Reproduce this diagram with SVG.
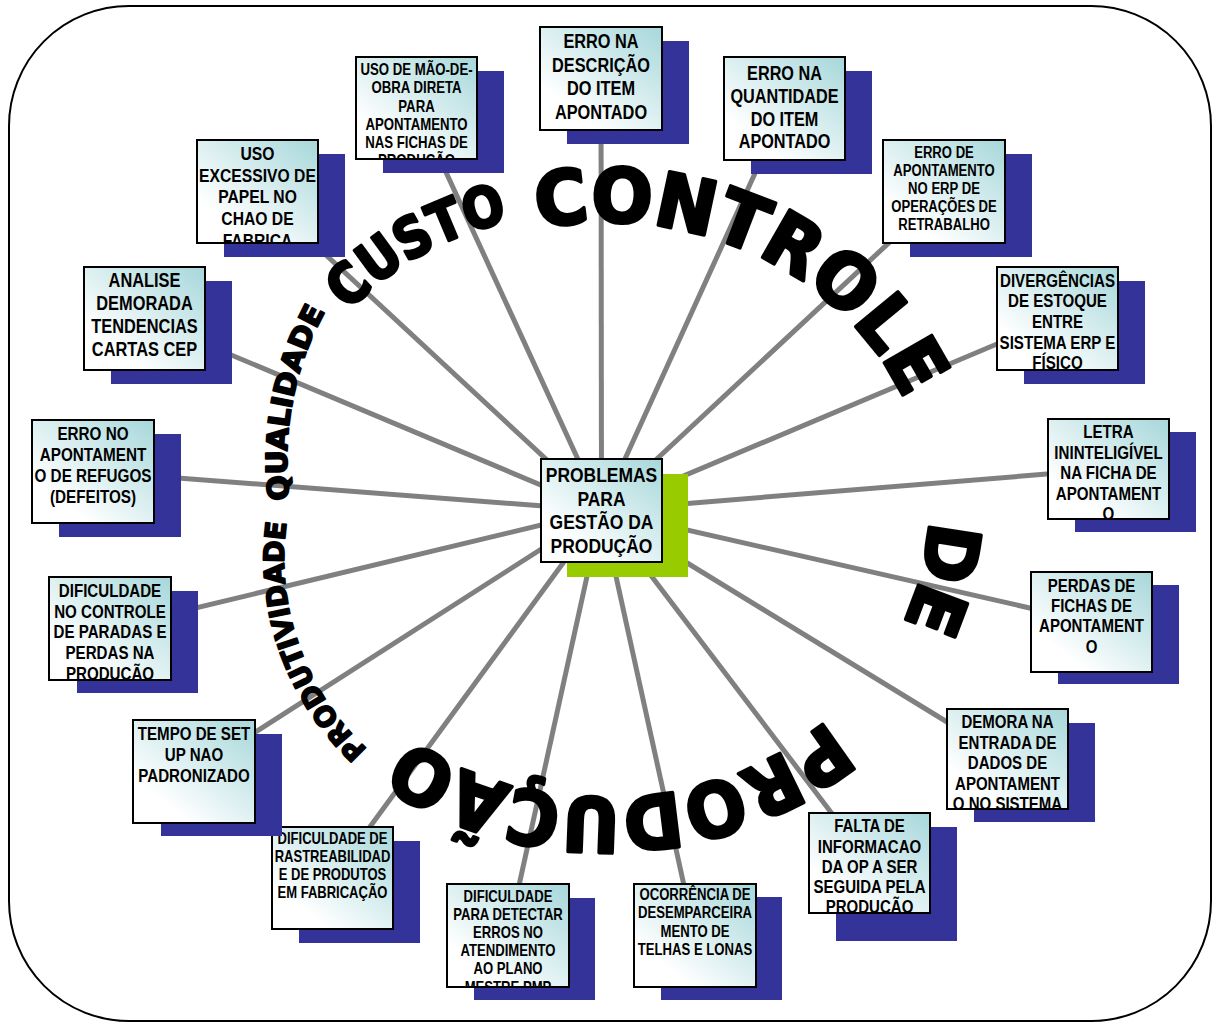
<svg xmlns="http://www.w3.org/2000/svg" width="1219" height="1025" viewBox="0 0 1219 1025">
<style>
.ln{stroke:#808080;stroke-width:5;fill:none}
.sh{fill:#333399}
.shc{fill:#99cc00}
.bx{fill:url(#bg);stroke:#000;stroke-width:2}
.t{font-family:"Liberation Sans",Arial,sans-serif;font-weight:bold;text-anchor:middle;fill:#000}
.wa{font-family:"DejaVu Sans",sans-serif;font-weight:bold;fill:#000;stroke:#000;stroke-linejoin:round}
</style>
<defs>
<linearGradient id="bg" x1="1" y1="0" x2="0.25" y2="0.8">
<stop offset="0" stop-color="#a6d7da"/>
<stop offset="1" stop-color="#ffffff"/>
</linearGradient>
<!-- baselines of the curved words -->
<path id="ring" d="M402.73 733.82 A323 288 0 0 1 809.27 286.18 A323 288 0 0 1 402.73 733.82 A323 288 0 0 1 809.27 286.18"/>
<path id="arcProd" d="M367.3 749.2 A261 261 0 0 1 289.7 503.7"/>
<path id="arcQual" d="M289.4 499.7 A313 313 0 0 1 343.6 281.5"/>
<path id="arcCusto" d="M336.8 324.7 A307 307 0 0 1 545.2 216.2"/>
<clipPath id="c1"><rect x="357" y="58" width="119" height="100"/></clipPath>
<clipPath id="c2"><rect x="198" y="141" width="119" height="101"/></clipPath>
<clipPath id="c6"><rect x="998" y="268" width="119" height="101"/></clipPath>
<clipPath id="c9"><rect x="1049" y="420" width="119" height="98"/></clipPath>
<clipPath id="c11"><rect x="948" y="710" width="119" height="98"/></clipPath>
<clipPath id="c12"><rect x="810" y="814" width="119" height="98"/></clipPath>
<clipPath id="c14"><rect x="448" y="885" width="120" height="101"/></clipPath>
<clipPath id="c17"><rect x="50" y="578" width="120" height="101"/></clipPath>
</defs>

<!-- outer frame -->
<rect x="9" y="6" width="1202" height="1015" rx="120" ry="120" fill="#fff" stroke="#000" stroke-width="2"/>

<!-- spokes from the central box to every problem box -->
<g id="connectors">
<line class="ln" x1="601.5" y1="510.5" x2="416.5" y2="108"/>
<line class="ln" x1="601.5" y1="510.5" x2="257.5" y2="191.5"/>
<line class="ln" x1="601.5" y1="510.5" x2="601" y2="78.5"/>
<line class="ln" x1="601.5" y1="510.5" x2="784.5" y2="108.5"/>
<line class="ln" x1="601.5" y1="510.5" x2="944" y2="191.5"/>
<line class="ln" x1="601.5" y1="510.5" x2="1057.5" y2="318.5"/>
<line class="ln" x1="601.5" y1="510.5" x2="144.5" y2="318.5"/>
<line class="ln" x1="601.5" y1="510.5" x2="93" y2="471.5"/>
<line class="ln" x1="601.5" y1="510.5" x2="1108.5" y2="469"/>
<line class="ln" x1="601.5" y1="510.5" x2="1091.5" y2="622"/>
<line class="ln" x1="601.5" y1="510.5" x2="1007.5" y2="759"/>
<line class="ln" x1="601.5" y1="510.5" x2="869.5" y2="863"/>
<line class="ln" x1="601.5" y1="510.5" x2="695" y2="935.5"/>
<line class="ln" x1="601.5" y1="510.5" x2="508" y2="935.5"/>
<line class="ln" x1="601.5" y1="510.5" x2="332.5" y2="878"/>
<line class="ln" x1="601.5" y1="510.5" x2="194" y2="771.5"/>
<line class="ln" x1="601.5" y1="510.5" x2="110" y2="628.5"/>
</g>

<!-- curved lettering around the hub -->
<g id="ring-words">
<text class="wa" font-size="28" stroke-width="1.8"><textPath href="#arcProd" startOffset="0" textLength="250" lengthAdjust="spacingAndGlyphs">PRODUTIVIDADE</textPath></text>
<text class="wa" font-size="29" stroke-width="1.8"><textPath href="#arcQual" startOffset="0" textLength="195" lengthAdjust="spacingAndGlyphs">QUALIDADE</textPath></text>
<text class="wa" font-size="56" stroke-width="3"><textPath href="#arcCusto" startOffset="18" textLength="186" lengthAdjust="spacingAndGlyphs">CUSTO</textPath></text>
<text class="wa" font-size="75" stroke-width="3.5"><textPath href="#ring" startOffset="675" textLength="435" lengthAdjust="spacingAndGlyphs">CONTROLE</textPath></text>
<text class="wa" font-size="72" stroke-width="3.5"><textPath href="#ring" startOffset="1234" textLength="107" lengthAdjust="spacingAndGlyphs">DE</textPath></text>
<text class="wa" font-size="75" stroke-width="3.5"><textPath href="#ring" startOffset="1464" textLength="448" lengthAdjust="spacingAndGlyphs">PRODUÇÃO</textPath></text>
</g>

<g id="n1">
<rect class="sh" x="383" y="71" width="121" height="102"/>
<rect class="bx" x="356" y="57" width="121" height="102"/>
<g clip-path="url(#c1)"><text class="t" font-size="15.9" transform="translate(416.5 0) scale(0.83 1)">
<tspan x="0" y="75">USO DE MÃO-DE-</tspan><tspan x="0" y="93.3">OBRA DIRETA</tspan><tspan x="0" y="111.6">PARA</tspan><tspan x="0" y="129.9">APONTAMENTO</tspan><tspan x="0" y="148.2">NAS FICHAS DE</tspan><tspan x="0" y="166.5">PRODUÇÃO</tspan></text></g>
</g>

<g id="n2">
<rect class="sh" x="224" y="154" width="121" height="103"/>
<rect class="bx" x="197" y="140" width="121" height="103"/>
<g clip-path="url(#c2)"><text class="t" font-size="18.9" transform="translate(257.5 0) scale(0.83 1)">
<tspan x="0" y="160">USO</tspan><tspan x="0" y="181.7">EXCESSIVO DE</tspan><tspan x="0" y="203.4">PAPEL NO</tspan><tspan x="0" y="225.1">CHAO DE</tspan><tspan x="0" y="246.8">FABRICA</tspan></text></g>
</g>

<g id="n3">
<rect class="sh" x="567" y="41" width="122" height="103"/>
<rect class="bx" x="540" y="27" width="122" height="103"/>
<text class="t" font-size="20.4" transform="translate(601 0) scale(0.8 1)">
<tspan x="0" y="48.5">ERRO NA</tspan><tspan x="0" y="72">DESCRIÇÃO</tspan><tspan x="0" y="95.5">DO ITEM</tspan><tspan x="0" y="119">APONTADO</tspan></text>
</g>

<g id="n4">
<rect class="sh" x="751" y="71" width="121" height="103"/>
<rect class="bx" x="724" y="57" width="121" height="103"/>
<text class="t" font-size="19.8" transform="translate(784.5 0) scale(0.82 1)">
<tspan x="0" y="80">ERRO NA</tspan><tspan x="0" y="102.8">QUANTIDADE</tspan><tspan x="0" y="125.6">DO ITEM</tspan><tspan x="0" y="148.4">APONTADO</tspan></text>
</g>

<g id="n5">
<rect class="sh" x="910" y="154" width="122" height="103"/>
<rect class="bx" x="883" y="140" width="122" height="103"/>
<text class="t" font-size="15.6" transform="translate(944 0) scale(0.84 1)">
<tspan x="0" y="158.3">ERRO DE</tspan><tspan x="0" y="176.2">APONTAMENTO</tspan><tspan x="0" y="194.1">NO ERP DE</tspan><tspan x="0" y="212">OPERAÇÕES DE</tspan><tspan x="0" y="229.9">RETRABALHO</tspan></text>
</g>

<g id="n6">
<rect class="sh" x="1024" y="281" width="121" height="103"/>
<rect class="bx" x="997" y="267" width="121" height="103"/>
<g clip-path="url(#c6)"><text class="t" font-size="18" transform="translate(1057.5 0) scale(0.84 1)">
<tspan x="0" y="286.7">DIVERGÊNCIAS</tspan><tspan x="0" y="307.4">DE ESTOQUE</tspan><tspan x="0" y="328.1">ENTRE</tspan><tspan x="0" y="348.8">SISTEMA ERP E</tspan><tspan x="0" y="369.5">FÍSICO</tspan></text></g>
</g>

<g id="n7">
<rect class="sh" x="111" y="281" width="121" height="103"/>
<rect class="bx" x="84" y="267" width="121" height="103"/>
<text class="t" font-size="20" transform="translate(144.5 0) scale(0.82 1)">
<tspan x="0" y="286.7">ANALISE</tspan><tspan x="0" y="309.8">DEMORADA</tspan><tspan x="0" y="332.9">TENDENCIAS</tspan><tspan x="0" y="356">CARTAS CEP</tspan></text>
</g>

<g id="n8">
<rect class="sh" x="59" y="434" width="122" height="103"/>
<rect class="bx" x="32" y="420" width="122" height="103"/>
<text class="t" font-size="18.4" transform="translate(93 0) scale(0.83 1)">
<tspan x="0" y="440">ERRO NO</tspan><tspan x="0" y="461.1">APONTAMENT</tspan><tspan x="0" y="482.2">O DE REFUGOS</tspan><tspan x="0" y="503.3">(DEFEITOS)</tspan></text>
</g>

<g id="hub">
<rect class="shc" x="567" y="474" width="121" height="103"/>
<rect class="bx" x="541" y="459" width="121" height="103"/>
<text class="t" font-size="20.8" transform="translate(601.5 0) scale(0.84 1)">
<tspan x="0" y="481.7">PROBLEMAS</tspan><tspan x="0" y="505.6">PARA</tspan><tspan x="0" y="529.5">GESTÃO DA</tspan><tspan x="0" y="553.4">PRODUÇÃO</tspan></text>
</g>

<g id="n9">
<rect class="sh" x="1075" y="432" width="121" height="100"/>
<rect class="bx" x="1048" y="419" width="121" height="100"/>
<g clip-path="url(#c9)"><text class="t" font-size="17.8" transform="translate(1108.5 0) scale(0.85 1)">
<tspan x="0" y="438.3">LETRA</tspan><tspan x="0" y="458.8">ININTELIGÍVEL</tspan><tspan x="0" y="479.3">NA FICHA DE</tspan><tspan x="0" y="499.8">APONTAMENT</tspan><tspan x="0" y="520.3">O</tspan></text></g>
</g>

<g id="n10">
<rect class="sh" x="1058" y="585" width="121" height="99"/>
<rect class="bx" x="1031" y="572" width="121" height="100"/>
<text class="t" font-size="17.7" transform="translate(1091.5 0) scale(0.85 1)">
<tspan x="0" y="591.7">PERDAS DE</tspan><tspan x="0" y="612">FICHAS DE</tspan><tspan x="0" y="632.3">APONTAMENT</tspan><tspan x="0" y="652.6">O</tspan></text>
</g>

<g id="n11">
<rect class="sh" x="974" y="723" width="121" height="99"/>
<rect class="bx" x="947" y="709" width="121" height="100"/>
<g clip-path="url(#c11)"><text class="t" font-size="17.7" transform="translate(1007.5 0) scale(0.85 1)">
<tspan x="0" y="728.3">DEMORA NA</tspan><tspan x="0" y="748.8">ENTRADA DE</tspan><tspan x="0" y="769.3">DADOS DE</tspan><tspan x="0" y="789.8">APONTAMENT</tspan><tspan x="0" y="810.3">O NO SISTEMA</tspan></text></g>
</g>

<g id="n12">
<rect class="sh" x="836" y="827" width="121" height="114"/>
<rect class="bx" x="809" y="813" width="121" height="100"/>
<g clip-path="url(#c12)"><text class="t" font-size="17.7" transform="translate(869.5 0) scale(0.85 1)">
<tspan x="0" y="832.3">FALTA DE</tspan><tspan x="0" y="852.6">INFORMACAO</tspan><tspan x="0" y="872.9">DA OP A SER</tspan><tspan x="0" y="893.2">SEGUIDA PELA</tspan><tspan x="0" y="913.5">PRODUÇÃO</tspan></text></g>
</g>

<g id="n13">
<rect class="sh" x="661" y="897" width="121" height="103"/>
<rect class="bx" x="634" y="884" width="122" height="103"/>
<text class="t" font-size="16" transform="translate(695 0) scale(0.82 1)">
<tspan x="0" y="900">OCORRÊNCIA DE</tspan><tspan x="0" y="918.5">DESEMPARCEIRA</tspan><tspan x="0" y="937">MENTO DE</tspan><tspan x="0" y="955.5">TELHAS E LONAS</tspan></text>
</g>

<g id="n14">
<rect class="sh" x="474" y="898" width="121" height="102"/>
<rect class="bx" x="447" y="884" width="122" height="103"/>
<g clip-path="url(#c14)"><text class="t" font-size="15.8" transform="translate(508 0) scale(0.83 1)">
<tspan x="0" y="901.7">DIFICULDADE</tspan><tspan x="0" y="919.9">PARA DETECTAR</tspan><tspan x="0" y="938.1">ERROS NO</tspan><tspan x="0" y="956.3">ATENDIMENTO</tspan><tspan x="0" y="974.5">AO PLANO</tspan><tspan x="0" y="992.7">MESTRE PMP</tspan></text></g>
</g>

<g id="n15">
<rect class="sh" x="299" y="841" width="121" height="102"/>
<rect class="bx" x="272" y="827" width="121" height="102"/>
<text class="t" font-size="15.7" transform="translate(332.5 0) scale(0.83 1)">
<tspan x="0" y="844">DIFICULDADE DE</tspan><tspan x="0" y="862.1">RASTREABILIDAD</tspan><tspan x="0" y="880.2">E DE PRODUTOS</tspan><tspan x="0" y="898.3">EM FABRICAÇÃO</tspan></text>
</g>

<g id="n16">
<rect class="sh" x="161" y="734" width="121" height="102"/>
<rect class="bx" x="133" y="720" width="122" height="103"/>
<text class="t" font-size="18" transform="translate(194 0) scale(0.84 1)">
<tspan x="0" y="740">TEMPO DE SET</tspan><tspan x="0" y="760.8">UP NAO</tspan><tspan x="0" y="781.6">PADRONIZADO</tspan></text>
</g>

<g id="n17">
<rect class="sh" x="77" y="591" width="121" height="102"/>
<rect class="bx" x="49" y="577" width="122" height="103"/>
<g clip-path="url(#c17)"><text class="t" font-size="18.2" transform="translate(110 0) scale(0.83 1)">
<tspan x="0" y="596.7">DIFICULDADE</tspan><tspan x="0" y="617.6">NO CONTROLE</tspan><tspan x="0" y="638.5">DE PARADAS E</tspan><tspan x="0" y="659.4">PERDAS NA</tspan><tspan x="0" y="680.3">PRODUÇÃO</tspan></text></g>
</g>
</svg>
